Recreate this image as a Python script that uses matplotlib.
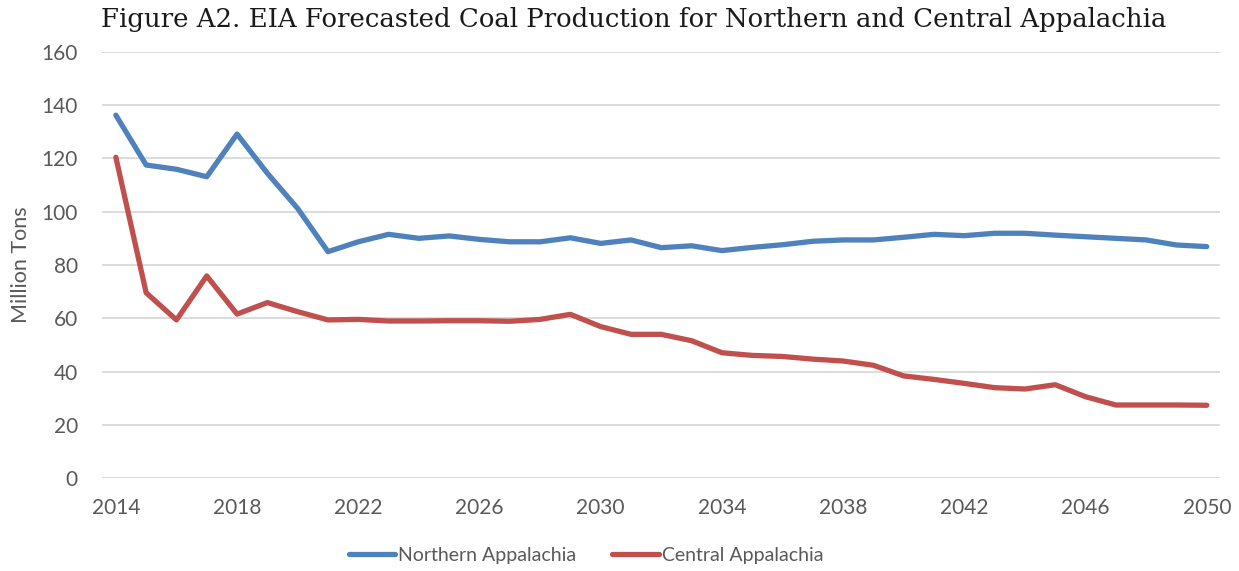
import matplotlib.pyplot as plt
from matplotlib.ticker import MultipleLocator

# EIA forecast, million tons
years = list(range(2014, 2051))
northern = [136.2, 117.5, 115.9, 113.1, 129.1, 114.4, 101.2, 85.0, 88.7, 91.5,
            90.0, 90.9, 89.6, 88.7, 88.7, 90.2, 88.1, 89.4, 86.5, 87.2,
            85.4, 86.6, 87.6, 88.9, 89.4, 89.4, 90.4, 91.5, 91.0, 91.9,
            91.9, 91.2, 90.6, 90.0, 89.4, 87.5, 86.9]
central = [120.4, 69.6, 59.4, 75.9, 61.6, 65.9, 62.5, 59.4, 59.6, 59.0,
           59.0, 59.1, 59.1, 58.9, 59.6, 61.5, 56.9, 54.0, 54.0, 51.6,
           47.1, 46.1, 45.7, 44.7, 44.0, 42.4, 38.4, 37.1, 35.6, 34.0,
           33.5, 35.1, 30.6, 27.5, 27.5, 27.5, 27.4]
series_names = ["Northern Appalachia", "Central Appalachia"]
x_ticks = list(range(2014, 2051, 4))

text_grey = "#595959"

fig = plt.figure(figsize=(12.39, 5.71), dpi=100)
ax = fig.add_axes([0.082, 0.1623, 0.903, 0.7472])

ax.plot(years, northern, color="#4F81BD", lw=3.8, solid_capstyle="round",
        solid_joinstyle="round", label=series_names[0])
ax.plot(years, central, color="#C0504D", lw=3.8, solid_capstyle="round",
        solid_joinstyle="round", label=series_names[1])

ax.set_xlim(2013.53, 2050.45)
ax.set_ylim(0, 160)
ax.yaxis.set_major_locator(MultipleLocator(20))
ax.set_xticks(x_ticks)
ax.grid(axis="y", color="#D9D9D9", lw=1.3)
ax.set_axisbelow(True)
for s in ax.spines.values():
    s.set_visible(False)
ax.tick_params(length=0, labelsize=15, labelcolor=text_grey)
ax.tick_params(axis="y", pad=17)
ax.tick_params(axis="x", pad=14)
for lab in ax.get_xticklabels() + ax.get_yticklabels():
    lab.set_fontfamily("Lato")

ax.set_ylabel("Million Tons", fontsize=15.5, color=text_grey, family="Lato", labelpad=8)

fig.text(0.5117, 0.965, "Figure A2. EIA Forecasted Coal Production for Northern and Central Appalachia",
         ha="center", va="center", fontsize=18.75, family="DejaVu Serif", color="#1a1a1a")

leg = fig.legend(loc="center", bbox_to_anchor=(0.473, 0.028), ncol=2, frameon=False,
                 handlelength=2.4, handletextpad=0.15, columnspacing=1.85,
                 prop={"family": "Lato", "size": 14})
for t in leg.get_texts():
    t.set_color(text_grey)

fig.savefig("out.png", dpi=100)
